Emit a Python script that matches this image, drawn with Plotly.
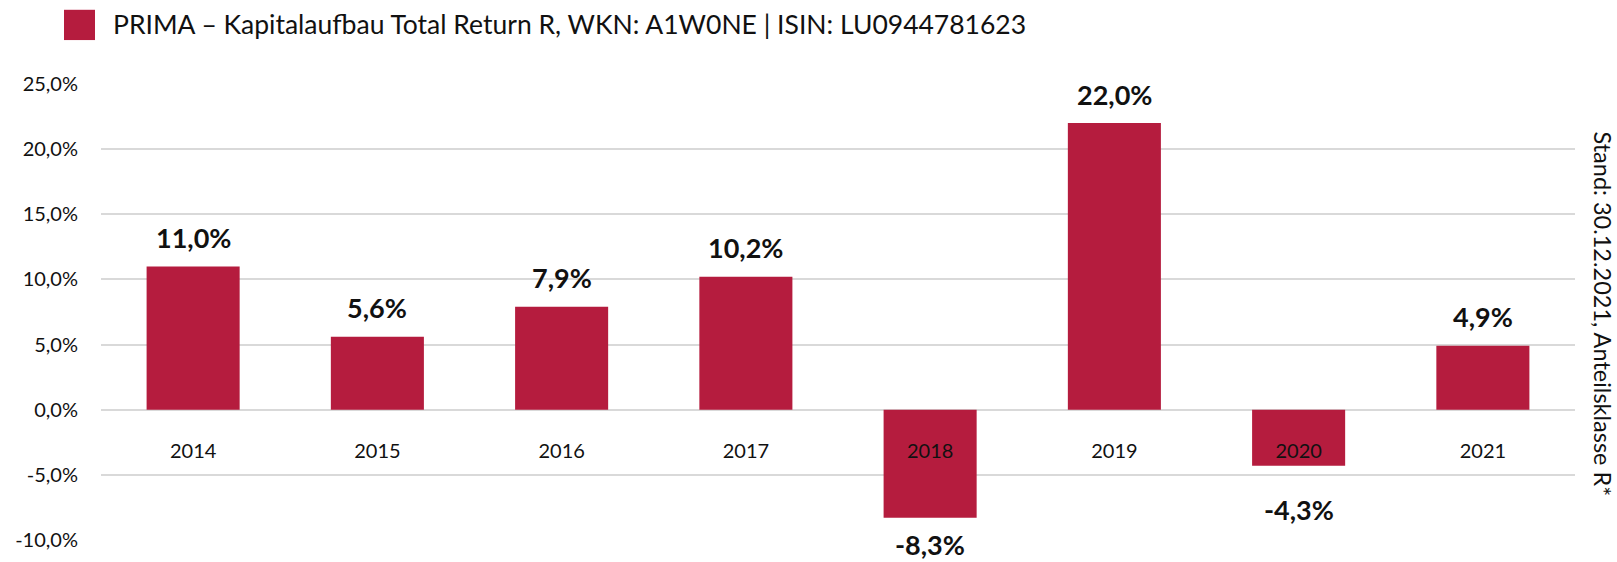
import plotly.graph_objects as go

years = ["2014", "2015", "2016", "2017", "2018", "2019", "2020", "2021"]
returns = [11.0, 5.6, 7.9, 10.2, -8.3, 22.0, -4.3, 4.9]
y_ticks = [-10, -5, 0, 5, 10, 15, 20, 25]
series_name = "PRIMA – Kapitalaufbau Total Return R, WKN: A1W0NE | ISIN: LU0944781623"
side_note = "Stand: 30.12.2021, Anteilsklasse R*"

BAR = "#B51C3E"
FONT = "Lato"
W, H = 1617, 562
ML, MR, MT, MB = 101, 42, 84, 11
YMIN, YMAX = -10, 25
px_per_unit = (H - MT - MB) / (YMAX - YMIN)


def lab(v):
    return f"{v:.1f}".replace(".", ",") + "%"


fig = go.Figure()
fig.add_trace(go.Bar(x=years, y=returns, marker=dict(color=BAR, line=dict(width=0)),
                     name=series_name, showlegend=False))

ann = []
for i, v in enumerate(returns):
    if v >= 0:
        shift = 29
    else:
        bar_end_px = MT + (YMAX - v) * px_per_unit
        center = min(bar_end_px + 44, H - 7)
        shift = -(center - bar_end_px)
    ann.append(dict(x=i, y=v, yshift=shift, text=lab(v), showarrow=False,
                    yanchor="middle", xanchor="center",
                    font=dict(family=FONT, size=27, color="#111111", weight="bold")))

PW, PH = W - ML - MR, H - MT - MB
ann.append(dict(x=(111 - ML) / PW, y=1 + (MT - 23) / PH, xref="paper", yref="paper",
                text=series_name, showarrow=False, xanchor="left", yanchor="middle",
                font=dict(family=FONT, size=26.5, color="#111111")))
ann.append(dict(x=(1603 - ML) / PW, y=1 - (320 - MT) / PH,
                xref="paper", yref="paper", text=side_note, showarrow=False, textangle=90,
                xanchor="center", yanchor="middle", font=dict(family=FONT, size=23.5, color="#111111")))

fig.add_shape(type="rect", xref="paper", yref="paper",
              x0=(64 - ML) / PW, x1=(95 - ML) / PW,
              y0=1 + (MT - 39) / PH, y1=1 + (MT - 8) / PH,
              fillcolor=BAR, line=dict(width=0))

zero_pos = (0 - YMIN) / (YMAX - YMIN)
fig.update_layout(
    width=W, height=H, margin=dict(l=ML, r=MR, t=MT, b=MB),
    plot_bgcolor="white", paper_bgcolor="white", bargap=0.495,
    annotations=ann,
    font=dict(family=FONT, color="#111111"),
    xaxis=dict(type="category", range=[-0.5, len(years) - 0.5], anchor="free", position=zero_pos,
               showline=False, showgrid=False,
               ticks="", ticklabelstandoff=27, tickfont=dict(family=FONT, size=20, color="#111111")),
    yaxis=dict(range=[YMIN, YMAX], tickvals=y_ticks, ticktext=[lab(t) for t in y_ticks],
               showgrid=True, gridcolor="#D9D9D9", gridwidth=1.5, zeroline=False,
               showline=False, ticks="", ticklabelstandoff=22,
               tickfont=dict(family=FONT, size=20, color="#111111")),
)
fig.write_html("out.html")
